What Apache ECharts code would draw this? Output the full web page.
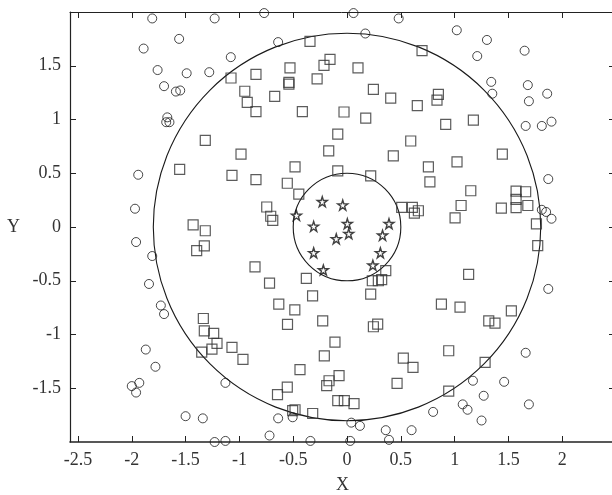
<!DOCTYPE html>
<html>
<head>
<meta charset="utf-8">
<script src="https://cdn.jsdelivr.net/npm/echarts@6.0.0/dist/echarts.min.js"></script>
<style>
  html, body { margin: 0; padding: 0; background: #ffffff; }
  #main { width: 612px; height: 495px; }
</style>
</head>
<body>
<div id="main"></div>
<script>
  // 刻度
  const xTicks = [-2.5, -2, -1.5, -1, -0.5, 0, 0.5, 1, 1.5, 2];
  const yTicks = [-1.5, -1, -0.5, 0, 0.5, 1, 1.5];

  // 外圈圆点 (o)
  const outerPoints = [
    [-1.81, 1.94], [-1.23, 1.94], [-1.56, 1.75], [-1.89, 1.66], [-1.08, 1.58], [-1.76, 1.46],
    [-1.49, 1.43], [-1.28, 1.44], [-1.70, 1.31], [-1.59, 1.26], [-1.55, 1.27], [-1.67, 1.02],
    [-1.68, 0.975], [-1.65, 0.975], [-1.94, 0.486], [-1.97, 0.17],
    [-0.77, 1.99], [0.06, 1.99], [0.48, 1.94], [0.17, 1.80], [-0.64, 1.72],
    [1.02, 1.83], [1.30, 1.74], [1.21, 1.59], [1.65, 1.64], [1.34, 1.35], [1.35, 1.24],
    [1.68, 1.32], [1.86, 1.24], [1.69, 1.17], [1.66, 0.94], [1.81, 0.94], [1.90, 0.98],
    [1.87, 0.446], [1.81, 0.16], [1.85, 0.14], [1.90, 0.077],
    [-1.96, -0.14], [-1.81, -0.27], [-1.84, -0.53], [-1.73, -0.73], [-1.70, -0.81],
    [-1.87, -1.14], [-1.78, -1.30], [-2.00, -1.48], [-1.93, -1.45], [-1.96, -1.54],
    [-1.13, -1.45], [-1.50, -1.76], [-1.34, -1.78], [-1.23, -2.0], [-1.13, -1.99],
    [-0.64, -1.78], [-0.505, -1.77], [-0.72, -1.94], [-0.34, -1.99], [0.03, -1.99],
    [0.04, -1.82], [0.12, -1.85], [0.36, -1.89], [0.39, -1.98], [0.60, -1.89], [0.80, -1.72],
    [1.87, -0.576], [1.66, -1.17], [1.17, -1.43], [1.46, -1.44], [1.27, -1.57],
    [1.075, -1.65], [1.12, -1.70], [1.69, -1.65], [1.25, -1.80]
  ];

  // 中间环方块 (□)
  const ringPoints = [
    [-1.078, 1.386], [-0.846, 1.42], [-0.53, 1.48], [-0.344, 1.727], [-0.54, 1.346], [-0.54, 1.33],
    [-0.278, 1.377], [-0.95, 1.263], [-0.927, 1.16], [-0.846, 1.074], [-0.672, 1.216], [-0.415, 1.074],
    [-1.317, 0.805], [-0.985, 0.678], [-1.555, 0.536], [-1.069, 0.48], [-0.846, 0.44], [-0.555, 0.407],
    [-0.483, 0.56], [-0.448, 0.305], [-0.746, 0.186], [-0.709, 0.10], [-0.69, 0.062], [-1.43, 0.02],
    [-1.317, -0.035], [-0.158, 1.56], [-0.214, 1.504], [0.102, 1.48], [0.245, 1.28], [0.406, 1.198],
    [0.653, 1.13], [-0.028, 1.07], [0.174, 1.012], [-0.086, 0.864], [-0.17, 0.709], [0.592, 0.80],
    [0.43, 0.662], [-0.086, 0.523], [0.22, 0.476], [0.756, 0.56], [0.77, 0.42], [0.508, 0.183],
    [0.607, 0.183], [0.626, 0.13], [0.663, 0.151], [0.697, 1.64], [0.849, 1.233], [0.836, 1.18],
    [0.917, 0.955], [1.174, 0.994], [1.022, 0.606], [1.443, 0.678], [1.15, 0.337], [1.06, 0.20],
    [1.004, 0.084], [1.434, 0.176], [1.571, 0.334], [1.66, 0.328], [1.571, 0.257], [1.571, 0.18],
    [1.68, 0.20], [1.76, 0.03], [1.772, -0.173],
    [-1.397, -0.22], [-1.326, -0.176], [-0.855, -0.371], [-1.335, -0.851], [-1.326, -0.966],
    [-1.239, -0.99], [-1.208, -1.083], [-1.255, -1.136], [-1.35, -1.164], [-1.069, -1.12],
    [-0.967, -1.232], [-0.72, -0.523], [-0.378, -0.477], [-0.32, -0.64], [-0.634, -0.718],
    [-0.485, -0.77], [-0.553, -0.905], [-0.226, -0.873], [-0.112, -1.071], [-0.211, -1.198],
    [-0.437, -1.326], [-0.555, -1.49], [-0.646, -1.56], [-0.167, -1.43], [-0.074, -1.383],
    [-0.189, -1.476], [-0.086, -1.616], [-0.025, -1.616], [0.065, -1.643], [-0.483, -1.70],
    [-0.505, -1.708], [-0.319, -1.735], [0.36, -0.406], [0.235, -0.50], [0.291, -0.50],
    [0.322, -0.49], [0.22, -0.625], [0.245, -0.928], [0.285, -0.903], [0.523, -1.219],
    [0.613, -1.306], [0.465, -1.455], [1.13, -0.44], [0.877, -0.718], [1.05, -0.746],
    [1.527, -0.78], [1.317, -0.873], [1.375, -0.894], [0.945, -1.151], [1.283, -1.26], [0.945, -1.526]
  ];

  // 内圈五角星 (☆)
  const innerPoints = [
    [-0.23, 0.235], [-0.04, 0.204], [-0.47, 0.108], [-0.31, 0.006], [0.003, 0.031], [0.016, -0.062],
    [-0.10, -0.11], [0.39, 0.031], [0.33, -0.077], [-0.31, -0.24], [0.31, -0.24], [-0.22, -0.40],
    [0.24, -0.356]
  ];

  // 分界圆 [cx, cy, r]
  const boundaryCircles = [[0, 0, 0.5], [0, 0, 1.8]];

  const starPath = 'path://M50,2 L61,36 L97,36 L68,57 L79,92 L50,71 L21,92 L32,57 L3,36 L39,36 Z';
  const font = '"Liberation Serif", "DejaVu Serif", serif';

  let myChart = echarts.init(document.getElementById('main'));

  myChart.setOption({
    animation: false,
    grid: {
      left: 70,
      right: -3,
      top: 12,
      bottom: 53,
      containLabel: false,
      outerBoundsMode: 'none'
    },
    xAxis: [
      {
        type: 'value',
        min: -2.574,
        max: 2.49,
        name: 'X',
        nameLocation: 'middle',
        nameGap: 34,
        nameTextStyle: { fontFamily: font, fontSize: 18, color: '#333' },
        axisLine: { show: true, onZero: false, lineStyle: { color: '#222', width: 1.6 } },
        axisTick: { inside: true, length: 6, customValues: xTicks, lineStyle: { color: '#222' } },
        axisLabel: {
          customValues: xTicks,
          margin: 9,
          fontFamily: font, fontSize: 18, color: '#333'
        },
        splitLine: { show: false }
      },
      {
        type: 'value',
        position: 'top',
        min: -2.574,
        max: 2.49,
        axisLine: { show: true, onZero: false, lineStyle: { color: '#222', width: 1 } },
        axisTick: { inside: true, length: 6, customValues: xTicks, lineStyle: { color: '#222' } },
        axisLabel: { show: false },
        splitLine: { show: false }
      }
    ],
    yAxis: [
      {
        type: 'value',
        min: -2,
        max: 2,
        name: 'Y',
        nameLocation: 'middle',
        nameRotate: 0,
        nameGap: 50,
        nameTextStyle: { fontFamily: font, fontSize: 18, color: '#333' },
        axisLine: { show: true, onZero: false, lineStyle: { color: '#222', width: 1.2 } },
        axisTick: { inside: true, length: 6, customValues: yTicks, lineStyle: { color: '#222' } },
        axisLabel: {
          customValues: yTicks,
          margin: 9,
          fontFamily: font, fontSize: 18, color: '#333'
        },
        splitLine: { show: false }
      },
      {
        type: 'value',
        position: 'right',
        min: -2,
        max: 2,
        axisLine: { show: true, onZero: false, lineStyle: { color: '#222' } },
        axisTick: { inside: true, length: 6, customValues: yTicks, lineStyle: { color: '#222' } },
        axisLabel: { show: false },
        splitLine: { show: false }
      }
    ],
    series: [
      {
        // 两个分界圆
        type: 'custom',
        data: boundaryCircles,
        clip: false,
        silent: true,
        renderItem: function (params, api) {
          let c = api.coord([api.value(0), api.value(1)]);
          let r = api.size([api.value(2), 0])[0];
          return {
            type: 'circle',
            shape: { cx: c[0], cy: c[1], r: r },
            style: { fill: 'none', stroke: '#1a1a1a', lineWidth: 1.1 }
          };
        }
      },
      {
        name: 'outer',
        type: 'scatter',
        data: outerPoints,
        clip: false,
        symbol: 'circle',
        symbolSize: 9,
        itemStyle: { color: 'rgba(255,255,255,0)', borderColor: '#1a1a1a', borderWidth: 1 }
      },
      {
        name: 'ring',
        type: 'scatter',
        data: ringPoints,
        clip: false,
        symbol: 'rect',
        symbolSize: 10,
        itemStyle: { color: 'rgba(255,255,255,0)', borderColor: '#333', borderWidth: 1.2 }
      },
      {
        name: 'inner',
        type: 'scatter',
        data: innerPoints,
        clip: false,
        symbol: starPath,
        symbolSize: 10,
        itemStyle: { color: '#fff', borderColor: '#111', borderWidth: 1.4 }
      }
    ]
  });
</script>
</body>
</html>
